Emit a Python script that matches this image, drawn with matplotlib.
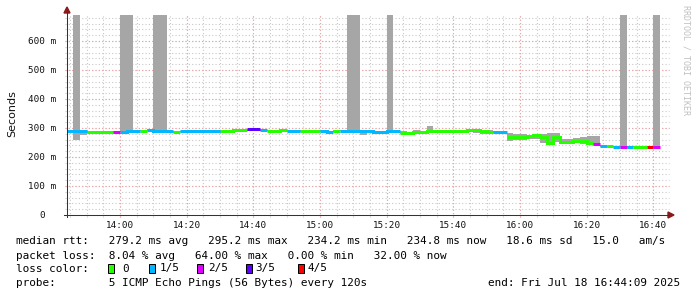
import numpy as np
import matplotlib
matplotlib.use("Agg")
import matplotlib.pyplot as plt
from matplotlib.patches import Rectangle, Polygon
from matplotlib.lines import Line2D
from matplotlib.transforms import blended_transform_factory

inf = np.inf

# ---------------- data ----------------
step_min = 2                 # probe every 120 s, steps start at 13:44
view_start_min = 0.15        # 13:44:09
view_span_min = 180          # 3 hours

median_ms = [
    289, 289, 289, 285, 285, 287, 287, 285, 287, 288,
    290, 290, 293, 290, 290, 288, 285, 288, 289, 289,
    291, 291, 288, 289, 288, 293, 293, 295.2, 295, 293,
    291, 291, 292, 290, 290, 291, 291, 288, 289, 285,
    290, 291, 288, 288, 288, 289, 286, 286, 288, 289,
    282, 284, 287, 286, 289, 291, 291, 290, 290, 290,
    292, 292, 291, 287, 286, 286, 270, 268, 268, 271,
    276, 268, 250, 269, 251, 253, 256, 256, 250, 244,
    238, 237, 236, 236, 236, 235.5, 234.2, 236, 234.8]

loss_idx = [
    1, 1, 1, 0, 0, 0, 0, 2, 1, 1,
    1, 0, 1, 1, 1, 1, 0, 1, 1, 1,
    1, 1, 1, 0, 0, 0, 0, 3, 3, 1,
    0, 0, 0, 1, 1, 0, 0, 0, 1, 1,
    0, 1, 1, 1, 1, 1, 1, 1, 1, 1,
    0, 0, 0, 0, 0, 0, 0, 0, 0, 0,
    0, 0, 0, 0, 1, 1, 0, 0, 0, 0,
    0, 0, 0, 0, 0, 0, 0, 0, 0, 2,
    1, 0, 1, 2, 1, 0, 0, 4, 2]

smoke_lo_ms = [
    284, 259, 276, 283, 284, 285, 285, 283, 285, 286,
    288, 288, 290, 288, 285, 284, 283, 286, 284, 284,
    289, 289, 285, 283, 285, 290, 290, 290, 288, 290,
    289, 289, 287, 286, 287, 286, 288, 285, 286, 282,
    285, 289, 286, 283, 277, 286, 283, 283, 285, 286,
    279, 276, 284, 282, 285, 288, 288, 283, 284, 287,
    289, 283, 280, 278, 283, 280, 256, 258, 258, 262,
    262, 249, 248, 252, 247, 247, 251, 246, 246, 241,
    235, 235, 234, 234, 234, 234, 234, 234, 234]

smoke_hi_ms = [
    292, inf, 292, 288, 288, 291, 289, 288, inf, inf,
    292, 292, 295, inf, inf, 291, 288, 291, 292, 292,
    294, 294, 291, 292, 291, 296, 295, 297, 297, 295,
    294, 294, 294, 293, 292, 294, 293, 291, 292, 288,
    293, 294, inf, inf, 291, 293, 289, 289, inf, 292,
    290, 286, 292, 289, 307, 294, 294, 293, 293, 293,
    295, 295, 294, 292, 290, 289, 282, 279, 279, 276,
    280, 279, 282, 282, 262, 262, 266, 270, 272, 272,
    241, 239, 238, inf, 238, 238, 238, 238, inf]

x_tick_min = [16, 36, 56, 76, 96, 116, 136, 156, 176]   # minutes after 13:44
x_tick_labels = ["14:00", "14:20", "14:40", "15:00", "15:20",
                 "15:40", "16:00", "16:20", "16:40"]
y_ticks_ms = [0, 100, 200, 300, 400, 500, 600]
y_top_ms = 689.7

loss_labels = ["0", "1/5", "2/5", "3/5", "4/5"]
loss_colors = ["#26ff00", "#00b8ff", "#dd00ff", "#5e00ff", "#ff0000"]

line_rtt = ("median rtt:   279.2 ms avg   295.2 ms max   234.2 ms min"
            "   234.8 ms now   18.6 ms sd   15.0   am/s")
line_loss = "packet loss:  8.04 % avg   64.00 % max   0.00 % min   32.00 % now"
line_probe = "probe:        5 ICMP Echo Pings (56 Bytes) every 120s"
line_end = "end: Fri Jul 18 16:44:09 2025"

# ---------------- figure ----------------
W, H = 697, 297
fig = plt.figure(figsize=(W / 100, H / 100), dpi=100)
fig.patch.set_facecolor("white")

def fx(px):
    return px / W

def fy(py):
    return 1 - py / H

L, R, B, T = 67, 667, 215, 15
ax = fig.add_axes([fx(L), fy(B), (R - L) / W, (B - T) / H])
ax.set_xlim(view_start_min, view_start_min + view_span_min)
ax.set_ylim(0, y_top_ms)
ax.set_axis_off()

MONO = "DejaVu Sans Mono"
minor_c = "#c8c8c8"
major_c = "#f2a0a0"
ext_x = 2 / 600.0
ext_y = 2 / 200.0
dots = (0, (1, 2))

# minor grid
for m in np.arange(1, 181, 5):
    ax.axvline(m, ymin=-ext_y, ymax=1, color=minor_c, lw=0.8,
               ls=dots, clip_on=False, zorder=1)
for v in np.arange(20, 690, 20):
    ax.axhline(v, xmin=-ext_x, xmax=1 + ext_x, color=minor_c, lw=0.8,
               ls=dots, clip_on=False, zorder=1)
# major grid
for m in x_tick_min:
    ax.axvline(m, ymin=-ext_y, ymax=1, color=major_c, lw=0.8,
               ls=dots, clip_on=False, zorder=1.5)
for v in y_ticks_ms[1:]:
    ax.axhline(v, xmin=-ext_x, xmax=1 + ext_x, color=major_c, lw=0.8,
               ls=dots, clip_on=False, zorder=1.5)

# smoke
n = len(median_ms)
edges = np.arange(n + 1) * step_min
lo = np.array(smoke_lo_ms, dtype=float)
hi = np.array(smoke_hi_ms, dtype=float)
hi = np.where(np.isinf(hi), y_top_ms, hi)
ax.bar(edges[:-1], hi - lo, bottom=lo, width=step_min, align="edge",
       color="#a6a6a6", linewidth=0, zorder=2)

# median line coloured by loss
med = np.array(median_ms, dtype=float)
lidx = np.array(loss_idx)
for k, col in enumerate(loss_colors):
    y = np.where(lidx == k, med, np.nan)
    y = np.append(y, np.nan)
    ax.plot(edges, y, drawstyle="steps-post", color=col, lw=2.16,
            solid_capstyle="butt", solid_joinstyle="miter", zorder=3)

# axes lines and arrows
axis_c = "#333333"
arrow_c = "#8b1a1a"
fig.add_artist(Line2D([fx(67), fx(67)], [fy(217), fy(12)], color=axis_c,
                      lw=0.75, transform=fig.transFigure))
fig.add_artist(Line2D([fx(64), fx(669)], [fy(215), fy(215)], color=axis_c,
                      lw=0.75, transform=fig.transFigure))
fig.add_artist(Polygon([[fx(64), fy(13)], [fx(70), fy(13)], [fx(67), fy(7)]],
                       closed=True, color=arrow_c, transform=fig.transFigure))
fig.add_artist(Polygon([[fx(668), fy(212)], [fx(668), fy(218)], [fx(674), fy(215)]],
                       closed=True, color=arrow_c, transform=fig.transFigure))

# tick labels
ty = blended_transform_factory(fig.transFigure, ax.transData)
cw_tick = 6.7 * 100 / 72 * 0.602
for v in y_ticks_ms:
    if v == 0:
        ax.text(fx(56 - 2 * cw_tick), v, "0", transform=ty, ha="right",
                va="center", family=MONO, fontsize=6.7, color="#111111")
    else:
        ax.text(fx(56), v, f"{v} m", transform=ty, ha="right",
                va="center", family=MONO, fontsize=6.7, color="#111111")
tx = blended_transform_factory(ax.transData, fig.transFigure)
for m, lab in zip(x_tick_min, x_tick_labels):
    ax.text(m, fy(225), lab, transform=tx, ha="center", va="center",
            family=MONO, fontsize=6.7, color="#111111")

# y label
fig.text(fx(12), fy(114), "Seconds", rotation=90, ha="center", va="center",
         family="DejaVu Sans", fontsize=8, color="#111111")

# watermark
fig.text(fx(686), fy(5), "RRDTOOL / TOBI OETIKER", rotation=270,
         ha="center", va="top", family=MONO, fontsize=6, color="#c0c0c0")

# legend
LFS = 7.95
fig.text(fx(16), fy(241.5), line_rtt, ha="left", va="center", family=MONO,
         fontsize=LFS, color="#000000")
fig.text(fx(16), fy(256), line_loss, ha="left", va="center", family=MONO,
         fontsize=LFS, color="#000000")
fig.text(fx(16), fy(268.5), "loss color:", ha="left", va="center", family=MONO,
         fontsize=LFS, color="#000000")
box_x = [108.3, 149.3, 197.3, 245.7, 298.3]
lab_x = [122, 160, 208, 255.5, 308]
for bx, lx, col, lab in zip(box_x, lab_x, loss_colors, loss_labels):
    fig.add_artist(Rectangle((fx(bx), fy(273)), 6 / W, 9 / H, facecolor=col,
                             edgecolor="#000000", lw=0.72,
                             transform=fig.transFigure))
    fig.text(fx(lx), fy(268.5), lab, ha="left", va="center", family=MONO,
             fontsize=LFS, color="#000000")
fig.text(fx(16), fy(283.5), line_probe, ha="left", va="center", family=MONO,
         fontsize=LFS, color="#000000")
fig.text(fx(680), fy(283.5), line_end, ha="right", va="center", family=MONO,
         fontsize=LFS, color="#000000")

fig.savefig("out.png", dpi=100, facecolor="white")
